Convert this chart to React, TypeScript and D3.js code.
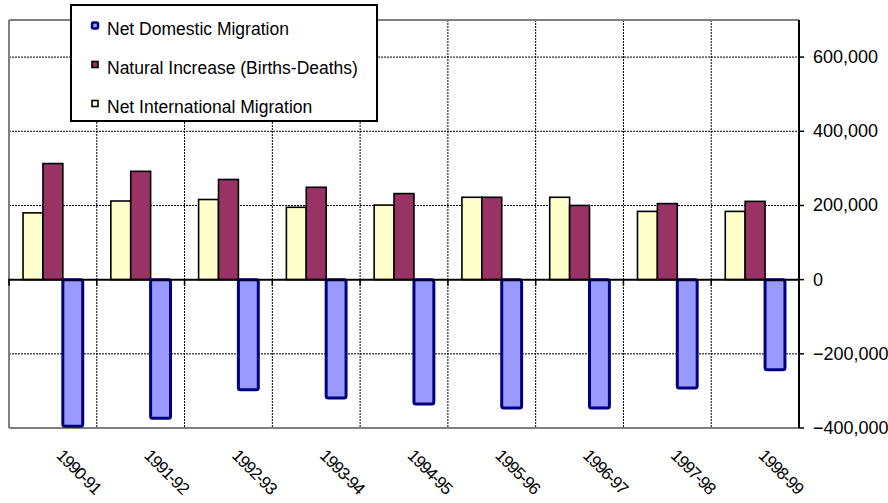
import React from "react";
import * as d3 from "d3";

const periods = ["1990-91", "1991-92", "1992-93", "1993-94", "1994-95", "1995-96", "1996-97", "1997-98", "1998-99"];
const netInternational = [180000, 212000, 216000, 195000, 201000, 222000, 222000, 184000, 184000];
const naturalIncrease = [313000, 292000, 270000, 249000, 232000, 222000, 200000, 205000, 211000];
const netDomestic = [-395000, -374000, -297000, -319000, -335000, -346000, -346000, -292000, -243000];
const yTicks = [-400000, -200000, 0, 200000, 400000, 600000];

const series = [
  { key: "intl", label: "Net International Migration", values: netInternational, fill: "#FFFFCC", stroke: "#000000", sw: 1.6, rx: 0 },
  { key: "natural", label: "Natural Increase (Births-Deaths)", values: naturalIncrease, fill: "#993366", stroke: "#000000", sw: 1.6, rx: 0 },
  { key: "domestic", label: "Net Domestic Migration", values: netDomestic, fill: "#9999FF", stroke: "#000080", sw: 3, rx: 2 },
];
const legendOrder = ["domestic", "natural", "intl"];

const W = 888;
const H = 503;
const left = 9;
const right = 799;
const top = 20;
const bottom = 428;

export default function App() {
  const x = d3.scaleBand<string>().domain(periods).range([left, right]).paddingInner(0).paddingOuter(0);
  const step = x.bandwidth();
  const inner = d3
    .scaleBand<string>()
    .domain(series.map((s) => s.key))
    .range([step * 0.16, step * 0.84])
    .padding(0);
  const y = d3.scaleLinear().domain([-400000, 700000]).range([bottom, top]);
  const fmt = d3.format(",");
  const font = "'Liberation Sans', Arial, sans-serif";

  return (
    <svg width={W} height={H} style={{ position: "absolute", left: 0, top: 0 }} fontFamily={font}>
      <rect x={0} y={0} width={W} height={H} fill="#fff" />
      {/* horizontal gridlines */}
      {yTicks
        .filter((t) => t !== 0 && t !== -400000)
        .map((t) => (
          <line key={"h" + t} x1={left} x2={right} y1={y(t)} y2={y(t)} stroke="#000" strokeWidth={1} strokeDasharray="2,1" />
        ))}
      {/* vertical gridlines at category boundaries */}
      {periods.slice(1).map((p) => (
        <line key={"v" + p} x1={x(p)!} x2={x(p)!} y1={top} y2={bottom} stroke="#000" strokeWidth={1} strokeDasharray="2,1" />
      ))}
      {/* plot border */}
      <line x1={left} x2={left} y1={top} y2={bottom} stroke="#808080" strokeWidth={2} />
      <line x1={left} x2={right} y1={top} y2={top} stroke="#808080" strokeWidth={2} />
      <line x1={left} x2={right} y1={bottom} y2={bottom} stroke="#808080" strokeWidth={2} />

      {/* bars */}
      {series.map((s) =>
        s.values.map((v, i) => {
          const bx = x(periods[i])! + inner(s.key)!;
          const y0 = y(0);
          const y1 = y(v);
          return (
            <rect
              key={s.key + i}
              x={bx}
              y={Math.min(y0, y1)}
              width={inner.bandwidth()}
              height={Math.abs(y1 - y0)}
              fill={s.fill}
              stroke={s.stroke}
              strokeWidth={s.sw}
              rx={s.rx}
            />
          );
        })
      )}

      {/* zero line with category ticks */}
      <line x1={left - 1} x2={right} y1={y(0)} y2={y(0)} stroke="#000" strokeWidth={2} />
      {periods.map((p) => (
        <line key={"zt" + p} x1={x(p)!} x2={x(p)!} y1={y(0)} y2={y(0) + 6} stroke="#000" strokeWidth={1.5} />
      ))}

      {/* right value axis */}
      <line x1={right} x2={right} y1={top} y2={bottom} stroke="#000" strokeWidth={2} />
      {yTicks.map((t) => (
        <g key={"yt" + t}>
          <line x1={right} x2={right + 5} y1={y(t)} y2={y(t)} stroke="#000" strokeWidth={1.5} />
          <text x={813} y={y(t) + 6} fontSize={18} fill="#000">
            {fmt(t)}
          </text>
        </g>
      ))}

      {/* category labels */}
      {periods.map((p) => {
        const cx = x(p)! + step / 2 + 11;
        const cy = 448;
        return (
          <text key={"xl" + p} x={cx} y={cy} fontSize={17} letterSpacing={-1.1} transform={`rotate(45 ${cx} ${cy})`} dominantBaseline="hanging" fill="#000">
            {p}
          </text>
        );
      })}

      {/* legend */}
      <rect x={71} y={5} width={306} height={116} fill="#fff" stroke="#000" strokeWidth={2} />
      {legendOrder.map((k, i) => {
        const s = series.find((d) => d.key === k)!;
        const base = 34.5 + i * 39;
        return (
          <g key={"lg" + k}>
            <rect
              x={92}
              y={base - 12}
              width={6}
              height={6}
              fill={s.fill}
              stroke={s.stroke}
              strokeWidth={k === "domestic" ? 2.5 : 1.6}
              rx={k === "domestic" ? 1.5 : 0}
            />
            <text x={107} y={base} fontSize={17.5} fill="#000">
              {s.label}
            </text>
          </g>
        );
      })}
    </svg>
  );
}
